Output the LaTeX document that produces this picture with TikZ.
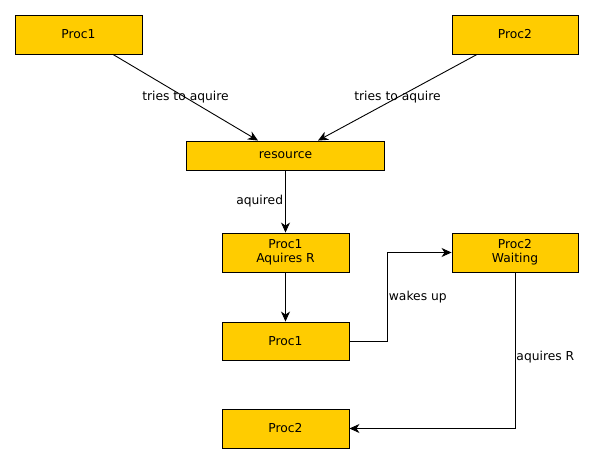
\documentclass[tikz,border=0pt]{standalone}
\usepackage{fontspec}
\setmainfont{DejaVu Sans}
\usetikzlibrary{arrows.meta,calc}
\definecolor{boxfill}{RGB}{255,204,0}
\begin{document}
\begin{tikzpicture}[x=1pt,y=1pt,
  box/.style={draw=black,line width=0.9pt,fill=boxfill,minimum width=127pt,minimum height=39pt,inner sep=0pt,align=center,font=\fontsize{12.3}{14}\selectfont},
  arr/.style={draw=black,line width=0.9pt,-{Stealth[length=10pt,width=9pt,inset=3pt]}},
  lbl/.style={font=\fontsize{12.3}{14}\selectfont,inner sep=2pt}]
\useasboundingbox[fill=white] (0,0) rectangle (593,-463);
\node[box] (p1) at (78.5,-34.5) {Proc1};
\node[box,minimum width=126pt] (p2) at (515,-34.5) {Proc2};
\node[box,minimum width=198pt,minimum height=29pt] (res) at (285.5,-155.5) {resource};
\node[box] (p1ar) at (285.5,-252.5) {Proc1\\Aquires R};
\node[box,minimum width=126pt] (p2w) at (515,-252.5) {Proc2\\Waiting};
\node[box,minimum height=38pt] (p1m) at (285.5,-341) {Proc1};
\node[box] (p2b) at (285.5,-428.5) {Proc2};
\draw[arr] ([xshift=34.5pt]p1.south) -- node[lbl,midway]{tries to aquire} ([xshift=-27.5pt]res.north);
\draw[arr] ([xshift=-38pt]p2.south) -- node[lbl,midway]{tries to aquire} ([xshift=32.5pt]res.north);
\draw[arr] (res.south) -- node[lbl,midway,left]{aquired} (p1ar.north);
\draw[arr] (p1ar.south) -- (p1m.north);
\draw[arr] (p1m.east) -- ++(38pt,0) coordinate (c1) |- node[lbl,pos=0.25,right,inner sep=1pt]{wakes up} (p2w.west);
\draw[arr] (p2w.south) |- node[lbl,pos=0.27,right,inner sep=1pt]{aquires R} (p2b.east);
\end{tikzpicture}
\end{document}
